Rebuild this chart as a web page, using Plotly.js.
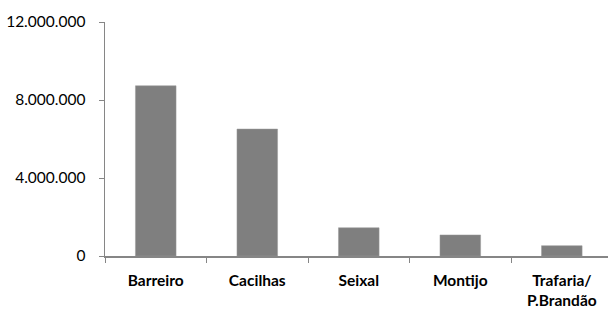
<!DOCTYPE html>
<html>
<head>
<meta charset="utf-8">
<script src="https://cdn.plot.ly/plotly-3.0.1.min.js"></script>
<style>html,body{margin:0;padding:0;background:#fff;overflow:hidden}#chart{width:608px;height:309px}</style>
</head>
<body>
<div id="chart"></div>
<script>
var categories = ["Barreiro", "Cacilhas", "Seixal", "Montijo", "Trafaria/<br>P.Brandão"];
var passengers = [8730000, 6510000, 1450000, 1080000, 530000];
var yTickVals = [0, 4000000, 8000000, 12000000];

var trace = {
  type: "bar",
  x: categories,
  y: passengers,
  width: 0.4,
  marker: {color: "#7f7f7f", line: {color: "#9a9a9a", width: 0.5}},
  hoverinfo: "skip"
};

var layout = {
  width: 608, height: 309,
  margin: {l: 105, r: 0, t: 22, b: 53},
  paper_bgcolor: "#ffffff",
  plot_bgcolor: "#ffffff",
  separators: ",.",
  showlegend: false,
  font: {family: "Lato, sans-serif", size: 15, color: "#000"},
  xaxis: {
    type: "category",
    range: [-0.5, 4.455],
    showline: true, linecolor: "#868686", linewidth: 1.5,
    ticks: "outside", tickson: "boundaries", ticklen: 5, tickcolor: "#868686", tickwidth: 1,
    ticklabelstandoff: 10,
    tickfont: {family: "Lato, sans-serif", size: 15.5, color: "#000", weight: "bold"},
    showgrid: false, zeroline: false, fixedrange: true
  },
  yaxis: {
    range: [0, 12000000],
    tickvals: yTickVals,
    tickformat: ",d",
    showline: true, linecolor: "#868686", linewidth: 1.5,
    ticks: "outside", ticklen: 5, tickcolor: "#868686", tickwidth: 1,
    ticklabelstandoff: 10,
    tickfont: {family: "Lato, sans-serif", size: 15.5, color: "#000"},
    showgrid: false, zeroline: false, fixedrange: true
  }
};

Plotly.newPlot("chart", [trace], layout, {displayModeBar: false, staticPlot: true});
</script>
</body>
</html>
